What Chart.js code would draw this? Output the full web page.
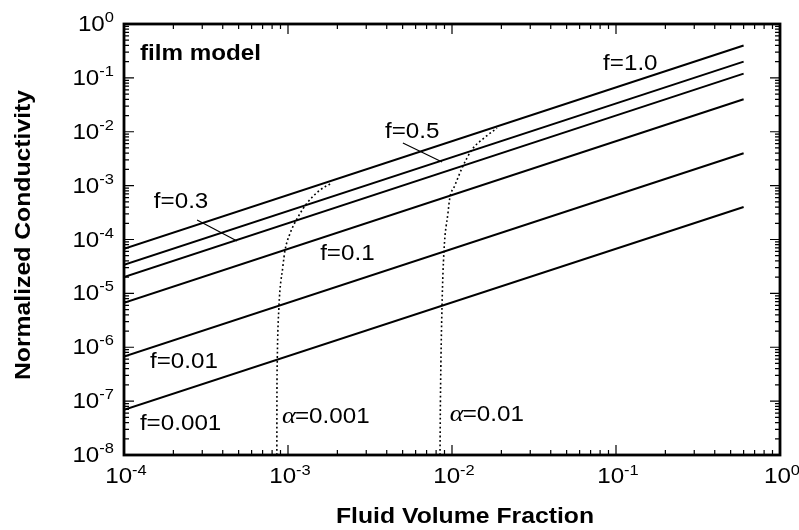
<!DOCTYPE html>
<html>
<head>
<meta charset="utf-8">
<script src="https://cdn.jsdelivr.net/npm/chart.js@4.4.1/dist/chart.umd.min.js"></script>
<style>
  body { margin: 0; background: #fff; }
  #wrap { width: 799px; height: 530px; }
</style>
</head>
<body>
<div id="wrap"><canvas id="filmChart" width="799" height="530"></canvas></div>
<script>
// fluid volume fraction at the two ends of each straight film line
const xEnds = [1e-4, 0.6];
// normalized conductivity at those ends, one array per f
const f10 = [6.7e-5, 0.40];
const f05 = [3.4e-5, 0.20];
const f03 = [2.0e-5, 0.12];
const f01 = [6.7e-6, 0.040];
const f001 = [6.7e-7, 0.0040];
const f0001 = [6.9e-8, 0.00040];

// dotted threshold curves
const a001X = [8.55e-4, 8.56e-4, 8.6e-4, 8.8e-4, 9.3e-4, 9.6e-4, 1.03e-3, 1.15e-3, 1.31e-3, 1.57e-3, 1.85e-3];
const a001Y = [1e-8, 1e-7, 5.4e-7, 5.4e-6, 3.1e-5, 6.4e-5, 1.3e-4, 2.6e-4, 4.8e-4, 8.3e-4, 1.12e-3];
const a01X = [8.45e-3, 8.5e-3, 8.69e-3, 8.93e-3, 9.45e-3, 9.7e-3, 1.04e-2, 1.15e-2, 1.32e-2, 1.59e-2, 1.88e-2];
const a01Y = [1e-8, 1e-7, 5.6e-6, 5.9e-5, 3.1e-4, 5.9e-4, 1.0e-3, 2.1e-3, 4.6e-3, 7.9e-3, 1.17e-2];

// tick labels
const xTickExps = ['-4', '-3', '-2', '-1', '0'];
const yTickExps = ['-8', '-7', '-6', '-5', '-4', '-3', '-2', '-1', '0'];
const minorSteps = [2, 3, 4, 5, 6, 7, 8, 9];

const pts = (xs, ys) => xs.map((x, i) => ({ x: x, y: ys[i] }));

const solid = { borderColor: '#000', borderWidth: 2, pointRadius: 0, tension: 0, fill: false };
const dotted = { borderColor: '#000', borderWidth: 1.6, pointRadius: 0, borderDash: [1.8, 2.6], cubicInterpolationMode: 'monotone', fill: false };

const SX = 1.1; // the original text is a bit wide
const FONT = '"Liberation Sans", Arial, sans-serif';

function txt(ctx, s, x, y, font, align) {
  ctx.save();
  ctx.font = font;
  const w = ctx.measureText(s).width * SX;
  let x0 = x;
  if (align === 'center') x0 = x - w / 2;
  if (align === 'right') x0 = x - w;
  ctx.translate(x0, y);
  ctx.scale(SX, 1);
  ctx.textAlign = 'left';
  ctx.textBaseline = 'alphabetic';
  ctx.fillText(s, 0, 0);
  ctx.restore();
  return w;
}

// annotation texts placed at data positions (left edge, middle of text)
const notes = [
  { t: 'film model', x: 1.25e-4, y: 0.30, bold: true },
  { t: 'f=1.0', x: 0.0834, y: 0.197 },
  { t: 'f=0.5', x: 3.9e-3, y: 0.0108 },
  { t: 'f=0.3', x: 1.52e-4, y: 5.4e-4 },
  { t: 'f=0.1', x: 1.57e-3, y: 5.9e-5 },
  { t: 'f=0.01', x: 1.44e-4, y: 5.8e-7 },
  { t: 'f=0.001', x: 1.25e-4, y: 4.1e-8 },
  { t: '=0.001', x: 9.2e-4, y: 5.6e-8, alpha: true },
  { t: '=0.01', x: 9.7e-3, y: 6.1e-8, alpha: true }
];
const leaders = [
  [5.02e-3, 6.2e-3, 8.7e-3, 2.75e-3],
  [2.79e-4, 2.31e-4, 4.89e-4, 9.4e-5]
];

const framePlugin = {
  id: 'frame',
  afterDraw(chart) {
    const ctx = chart.ctx;
    const a = chart.chartArea;
    const xs = chart.scales.x, ys = chart.scales.y;
    ctx.save();
    ctx.strokeStyle = '#000';
    ctx.fillStyle = '#000';

    // ticks, pointing inward on all four sides
    ctx.lineWidth = 1.2;
    const tickX = (v, len) => {
      const p = xs.getPixelForValue(v);
      ctx.beginPath();
      ctx.moveTo(p, a.bottom); ctx.lineTo(p, a.bottom - len);
      ctx.moveTo(p, a.top); ctx.lineTo(p, a.top + len);
      ctx.stroke();
    };
    const tickY = (v, len) => {
      const p = ys.getPixelForValue(v);
      ctx.beginPath();
      ctx.moveTo(a.left, p); ctx.lineTo(a.left + len, p);
      ctx.moveTo(a.right, p); ctx.lineTo(a.right - len, p);
      ctx.stroke();
    };
    xTickExps.forEach((e, i) => {
      const d = Math.pow(10, +e);
      tickX(d, 10);
      if (i < xTickExps.length - 1) minorSteps.forEach(m => tickX(m * d, 5));
    });
    yTickExps.forEach((e, i) => {
      const d = Math.pow(10, +e);
      tickY(d, 10);
      if (i < yTickExps.length - 1) minorSteps.forEach(m => tickY(m * d, 5));
    });

    // frame
    ctx.lineWidth = 2.8;
    ctx.strokeRect(a.left, a.top, a.right - a.left, a.bottom - a.top);

    // tick labels 10^n
    const big = '22px ' + FONT, small = '15px ' + FONT;
    xTickExps.forEach(e => {
      const p = xs.getPixelForValue(Math.pow(10, +e));
      ctx.font = big; const w1 = ctx.measureText('10').width * SX;
      ctx.font = small; const w2 = ctx.measureText(e).width * SX;
      const x0 = p - (w1 + w2) / 2 + 2;
      txt(ctx, '10', x0, a.bottom + 28, big, 'left');
      txt(ctx, e, x0 + w1, a.bottom + 20, small, 'left');
    });
    yTickExps.forEach(e => {
      const p = ys.getPixelForValue(Math.pow(10, +e));
      ctx.font = small; const w2 = ctx.measureText(e).width * SX;
      const right = a.left - 10;
      txt(ctx, e, right - w2, p - 2, small, 'left');
      txt(ctx, '10', right - w2, p + 7, big, 'right');
    });

    // axis titles
    txt(ctx, 'Fluid Volume Fraction', 465, 523, 'bold 22.5px ' + FONT, 'center');
    ctx.save();
    ctx.translate(30, 235);
    ctx.rotate(-Math.PI / 2);
    txt(ctx, 'Normalized Conductivity', 0, 0, 'bold 22.5px ' + FONT, 'center');
    ctx.restore();

    // leader lines
    ctx.lineWidth = 1.2;
    leaders.forEach(l => {
      ctx.beginPath();
      ctx.moveTo(xs.getPixelForValue(l[0]), ys.getPixelForValue(l[1]));
      ctx.lineTo(xs.getPixelForValue(l[2]), ys.getPixelForValue(l[3]));
      ctx.stroke();
    });

    // curve labels
    notes.forEach(n => {
      let px = xs.getPixelForValue(n.x);
      const py = ys.getPixelForValue(n.y) + 8;
      if (n.alpha) {
        px += txt(ctx, 'α', px, py, 'italic 24px "Liberation Serif", serif', 'left') - 1;
      }
      txt(ctx, n.t, px, py, (n.bold ? 'bold ' : '') + '22px ' + FONT, 'left');
    });
    ctx.restore();
  }
};

const config = {
  type: 'line',
  data: {
    datasets: [
      { label: 'f=1.0', data: pts(xEnds, f10), ...solid },
      { label: 'f=0.5', data: pts(xEnds, f05), ...solid },
      { label: 'f=0.3', data: pts(xEnds, f03), ...solid },
      { label: 'f=0.1', data: pts(xEnds, f01), ...solid },
      { label: 'f=0.01', data: pts(xEnds, f001), ...solid },
      { label: 'f=0.001', data: pts(xEnds, f0001), ...solid },
      { label: 'α=0.001', data: pts(a001X, a001Y), ...dotted },
      { label: 'α=0.01', data: pts(a01X, a01Y), ...dotted }
    ]
  },
  options: {
    responsive: false,
    animation: false,
    layout: { padding: { left: 124, right: 19, top: 24, bottom: 75 } },
    scales: {
      x: { type: 'logarithmic', min: 1e-4, max: 1, display: false },
      y: { type: 'logarithmic', min: 1e-8, max: 1, display: false }
    },
    plugins: {
      legend: { display: false },
      tooltip: { enabled: false }
    }
  },
  plugins: [framePlugin]
};

new Chart(document.getElementById('filmChart'), config);
</script>
</body>
</html>
